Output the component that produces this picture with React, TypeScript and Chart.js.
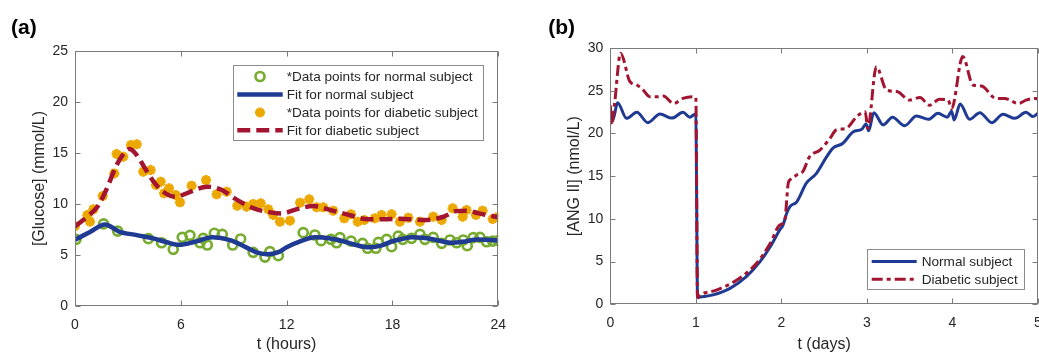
import React, { useEffect, useRef } from "react";
import { Chart, registerables } from "chart.js";
import { drawPoint } from "chart.js/helpers";

Chart.register(...registerables);

const FONT = "'Liberation Sans', Arial, Helvetica, sans-serif";
const TEXT = "#262626";
const BLUE = "#1f3a93";
const RED = "#a2142f";
const GREEN = "#77ac30";
const ORANGE = "#eda800";

// ---------- Panel (a): glucose over 24 hours ----------
const hoursTicks = [0, 6, 12, 18, 24];
const glucoseTicks = [0, 5, 10, 15, 20, 25];

const normalDataT = [0.06, 1.62, 2.42, 4.16, 4.91, 5.57, 6.08, 6.52, 7.09, 7.27, 7.5, 7.9, 8.35, 8.94, 9.39, 10.1, 10.77, 11.05, 11.53, 12.94, 13.6, 13.95, 14.51, 14.83, 15.02, 15.65, 16.3, 16.59, 17.06, 17.2, 17.67, 17.95, 18.33, 18.58, 19.08, 19.56, 19.84, 20.31, 20.79, 21.26, 21.64, 22.01, 22.24, 22.58, 22.96, 23.34, 23.68, 24.0];
const normalDataV = [6.54, 8.05, 7.35, 6.6, 6.2, 5.56, 6.73, 6.93, 6.2, 6.63, 5.98, 7.13, 7.03, 5.98, 6.57, 5.26, 4.8, 5.33, 4.93, 7.19, 6.96, 6.4, 6.54, 6.2, 6.7, 6.37, 6.14, 5.66, 5.66, 6.24, 6.54, 5.81, 6.86, 6.54, 6.63, 7.03, 6.54, 6.73, 6.14, 6.47, 6.2, 6.47, 5.91, 6.7, 6.73, 6.3, 6.37, 6.4];

const normalFitT = [0, 0.85, 1.7, 2.5, 3.5, 4.5, 5.2, 5.9, 6.8, 7.8, 8.8, 9.7, 10.4, 10.9, 11.5, 12.0, 12.8, 13.6, 14.4, 15.2, 16.0, 16.7, 17.4, 18.0, 18.6, 19.1, 19.7, 20.4, 21.3, 22.0, 22.8, 23.4, 24];
const normalFitV = [6.5, 7.25, 8.0, 7.3, 6.95, 6.6, 6.25, 6.0, 6.3, 6.73, 6.45, 5.75, 5.2, 5.07, 5.25, 5.75, 6.35, 6.73, 6.65, 6.35, 5.95, 5.75, 5.95, 6.35, 6.6, 6.73, 6.68, 6.5, 6.2, 6.3, 6.52, 6.5, 6.4];

const diabeticDataT = [0, 0.7, 0.85, 1.04, 1.57, 2.23, 2.36, 2.74, 3.17, 3.5, 3.87, 4.29, 4.59, 4.86, 5.05, 5.33, 5.71, 5.95, 6.61, 7.43, 8.03, 8.6, 9.2, 9.73, 10.1, 10.53, 10.96, 11.24, 11.62, 12.19, 12.76, 13.28, 13.7, 14.08, 14.64, 15.27, 15.65, 16.03, 16.4, 17.0, 17.38, 17.95, 18.42, 18.9, 19.56, 20.31, 20.79, 21.41, 21.98, 22.2, 22.73, 23.11, 23.68, 24];
const diabeticDataV = [7.84, 8.92, 8.27, 9.48, 10.78, 13.0, 14.9, 14.64, 15.78, 15.85, 13.17, 13.33, 11.86, 12.19, 11.05, 11.54, 10.88, 10.16, 11.8, 12.35, 10.95, 11.21, 9.83, 9.74, 10.0, 10.07, 9.48, 8.92, 8.27, 8.37, 10.13, 10.46, 9.67, 9.67, 9.35, 8.6, 8.99, 8.27, 8.43, 8.6, 8.92, 8.99, 8.27, 8.66, 8.27, 8.76, 8.43, 9.58, 8.76, 9.41, 8.92, 9.35, 8.53, 8.76];

const diabeticFitT = [0, 0.8, 1.3, 1.8, 2.3, 2.7, 3.1, 3.5, 4.0, 4.5, 5.0, 5.7, 6.4, 7.5, 8.3, 9.0, 10.1, 11.0, 11.7, 12.7, 13.5, 14.6, 15.6, 16.6, 17.5, 18.4, 19.8, 20.9, 21.6, 22.2, 22.9, 24];
const diabeticFitV = [7.8, 8.9, 9.8, 11.5, 13.6, 14.8, 15.4, 14.8, 13.4, 12.1, 11.2, 10.7, 11.1, 11.7, 11.4, 10.6, 9.6, 9.2, 9.08, 9.55, 9.8, 9.35, 8.9, 8.5, 8.5, 8.55, 8.43, 8.75, 9.3, 9.35, 9.08, 8.7];

// ---------- Panel (b): ANG II over 5 days ----------
const dayTicks = [0, 1, 2, 3, 4, 5];
const angTicks = [0, 5, 10, 15, 20, 25, 30];

const angNormalT = [0, 0.03, 0.085, 0.19, 0.31, 0.44, 0.58, 0.72, 0.85, 0.93, 0.99, 1.0, 1.02, 1.05, 1.2, 1.4, 1.59, 1.75, 1.87, 1.98, 2.02, 2.06, 2.1, 2.18, 2.29, 2.41, 2.53, 2.6, 2.72, 2.84, 2.94, 2.99, 3.02, 3.08, 3.19, 3.3, 3.44, 3.58, 3.72, 3.83, 3.94, 3.99, 4.02, 4.09, 4.2, 4.32, 4.46, 4.59, 4.73, 4.86, 4.94, 5.0];
const angNormalV = [22.3, 21.6, 23.6, 21.77, 22.47, 21.26, 22.27, 21.8, 22.47, 21.9, 22.24, 22.2, 0.8, 0.85, 1.1, 1.87, 3.23, 4.99, 6.74, 8.7, 9.3, 10.6, 11.43, 12.0, 14.16, 15.33, 17.28, 18.26, 18.85, 20.2, 20.5, 21.1, 20.3, 22.43, 21.0, 21.9, 20.9, 22.04, 21.65, 22.35, 21.9, 22.6, 21.57, 23.45, 21.65, 22.43, 21.26, 22.24, 21.77, 22.47, 21.97, 22.35];

const angDiabeticT = [0, 0.015, 0.05, 0.12, 0.23, 0.31, 0.385, 0.46, 0.56, 0.62, 0.74, 0.85, 0.97, 1.0, 1.02, 1.05, 1.24, 1.48, 1.71, 1.87, 1.98, 2.04, 2.08, 2.1, 2.18, 2.25, 2.33, 2.45, 2.57, 2.64, 2.76, 2.88, 2.98, 3.01, 3.11, 3.23, 3.35, 3.5, 3.62, 3.73, 3.85, 3.95, 3.99, 4.12, 4.24, 4.34, 4.51, 4.61, 4.77, 4.86, 4.98, 5.0];
const angDiabeticV = [23.3, 21.0, 23.5, 29.4, 26.06, 25.67, 25.08, 24.3, 24.3, 24.38, 23.5, 24.1, 24.3, 24.2, 0.8, 1.09, 1.67, 2.84, 4.8, 7.14, 9.28, 9.87, 14.16, 14.55, 15.13, 15.52, 17.28, 18.06, 19.43, 20.4, 20.6, 21.96, 22.55, 20.6, 27.8, 25.08, 24.9, 23.9, 24.2, 23.3, 24.0, 23.9, 22.9, 29.0, 25.67, 25.55, 24.1, 24.1, 23.5, 23.9, 24.1, 24.0];

const zip = (t: number[], v: number[]) => t.map((x, i) => ({ x, y: v[i] }));

// ---------- plugins ----------
const framePlugin = {
  id: "matlabFrame",
  afterDatasetsDraw(chart: any) {
    const { ctx, chartArea: a, scales } = chart;
    ctx.save();
    ctx.strokeStyle = "#7a7a7a";
    ctx.lineWidth = 1;
    const L = Math.round(a.left) + 0.5, R = Math.round(a.right) - 0.5;
    const T = Math.round(a.top) + 0.5, B = Math.round(a.bottom) - 0.5;
    ctx.strokeRect(L, T, R - L, B - T);
    ctx.beginPath();
    const tl = 5;
    scales.x.ticks.forEach((t: any) => {
      const px = Math.round(scales.x.getPixelForValue(t.value)) + 0.5;
      ctx.moveTo(px, B); ctx.lineTo(px, B - tl);
      ctx.moveTo(px, T); ctx.lineTo(px, T + tl);
    });
    scales.y.ticks.forEach((t: any) => {
      const py = Math.round(scales.y.getPixelForValue(t.value)) + 0.5;
      ctx.moveTo(L, py); ctx.lineTo(L + tl, py);
      ctx.moveTo(R, py); ctx.lineTo(R - tl, py);
    });
    ctx.stroke();
    ctx.restore();
  },
};

const boxLegendPlugin = {
  id: "boxLegend",
  afterDraw(chart: any, _args: any, opts: any) {
    if (!opts || !opts.box) return;
    const { ctx } = chart;
    const { box, rowY, lineX0, lineX1, textX, fontSize } = opts;
    ctx.save();
    ctx.fillStyle = "#ffffff";
    ctx.fillRect(box.x, box.y, box.w, box.h);
    ctx.strokeStyle = "#8a8a8a";
    ctx.lineWidth = 1;
    ctx.strokeRect(Math.round(box.x) + 0.5, Math.round(box.y) + 0.5, Math.round(box.w), Math.round(box.h));
    chart.data.datasets.forEach((ds: any, i: number) => {
      const y = rowY[i];
      if (ds.showLine === false) {
        ctx.strokeStyle = ds.borderColor;
        ctx.fillStyle = ds.backgroundColor || "rgba(0,0,0,0)";
        ctx.lineWidth = ds.pointBorderWidth;
        ctx.setLineDash([]);
        drawPoint(ctx, { pointStyle: ds.pointStyle, radius: ds.pointRadius, borderWidth: ds.pointBorderWidth, rotation: 0 }, (lineX0 + lineX1) / 2, y);
      } else {
        ctx.strokeStyle = ds.borderColor;
        ctx.lineWidth = ds.borderWidth;
        ctx.setLineDash(ds.borderDash || []);
        ctx.lineCap = "butt";
        ctx.beginPath();
        ctx.moveTo(lineX0, y);
        ctx.lineTo(lineX1, y);
        ctx.stroke();
        ctx.setLineDash([]);
      }
      ctx.fillStyle = TEXT;
      ctx.font = `${fontSize}px ${FONT}`;
      ctx.textBaseline = "middle";
      ctx.textAlign = "left";
      ctx.fillText(ds.label, textX, y + 0.5);
    });
    ctx.restore();
  },
};

const panelLabelPlugin = {
  id: "panelLabel",
  afterDraw(chart: any, _args: any, opts: any) {
    if (!opts || !opts.text) return;
    const { ctx } = chart;
    ctx.save();
    ctx.fillStyle = "#000000";
    ctx.font = `bold 21px ${FONT}`;
    ctx.textBaseline = "middle";
    ctx.textAlign = "left";
    ctx.fillText(opts.text, opts.x, opts.y);
    ctx.restore();
  },
};

function baseScales(xMin: number, xMax: number, xTicks: number[], yMin: number, yMax: number, yTicks: number[], xTitle: string, yTitle: string, leftW: number, bottomH: number, yTitlePad: number) {
  const tickFont = { family: FONT, size: 14 };
  const titleFont = { family: FONT, size: 16 };
  return {
    x: {
      type: "linear",
      min: xMin,
      max: xMax,
      afterBuildTicks: (s: any) => { s.ticks = xTicks.map((v) => ({ value: v })); },
      grid: { display: false, drawTicks: false },
      border: { display: false },
      ticks: { color: TEXT, font: tickFont, padding: 10.5, maxRotation: 0, autoSkip: false, callback: (v: any) => String(v) },
      title: { display: true, text: xTitle, color: TEXT, font: titleFont, padding: { top: 0, bottom: 0 } },
      afterFit: (s: any) => { s.height = bottomH; },
    },
    y: {
      type: "linear",
      min: yMin,
      max: yMax,
      afterBuildTicks: (s: any) => { s.ticks = yTicks.map((v) => ({ value: v })); },
      grid: { display: false, drawTicks: false },
      border: { display: false },
      ticks: { color: TEXT, font: tickFont, padding: 7, autoSkip: false, callback: (v: any) => String(v) },
      title: { display: true, text: yTitle, color: TEXT, font: titleFont, padding: { top: yTitlePad, bottom: 0 } },
      afterFit: (s: any) => { s.width = leftW; },
    },
  };
}

function PanelA() {
  const ref = useRef<HTMLCanvasElement>(null);
  useEffect(() => {
    const chart = new Chart(ref.current!, {
      type: "line",
      data: {
        datasets: [
          { label: "*Data points for normal subject", data: zip(normalDataT, normalDataV), showLine: false, borderColor: GREEN, backgroundColor: "rgba(0,0,0,0)", pointStyle: "circle", pointRadius: 4.5, pointBorderWidth: 2.7, pointBackgroundColor: "rgba(0,0,0,0)", pointBorderColor: GREEN, order: 4 },
          { label: "Fit for normal subject", data: zip(normalFitT, normalFitV), borderColor: BLUE, borderWidth: 4.5, pointRadius: 0, cubicInterpolationMode: "monotone", order: 3 },
          { label: "*Data points for diabetic subject", data: zip(diabeticDataT, diabeticDataV), showLine: false, borderColor: ORANGE, backgroundColor: ORANGE, pointStyle: "star", pointRadius: 5, pointBorderWidth: 3, pointBorderColor: ORANGE, pointBackgroundColor: ORANGE, order: 2 },
          { label: "Fit for diabetic subject", data: zip(diabeticFitT, diabeticFitV), borderColor: RED, borderWidth: 4.5, borderDash: [13, 6], pointRadius: 0, cubicInterpolationMode: "monotone", order: 1 },
        ],
      },
      options: {
        animation: false,
        responsive: true,
        maintainAspectRatio: false,
        devicePixelRatio: 1,
        layout: { padding: { top: 51, right: 21.7, left: 0, bottom: 0 } },
        scales: baseScales(0, 24, hoursTicks, 0, 25, glucoseTicks, "t (hours)", "[Glucose] (mmol/L)", 75, 48, 29.5) as any,
        plugins: {
          legend: { display: false },
          tooltip: { enabled: false },
          boxLegend: { box: { x: 232.7, y: 65.3, w: 250, h: 75.4 }, rowY: [76.5, 94.5, 112.5, 130.3], lineX0: 237.3, lineX1: 282.7, textX: 286.7, fontSize: 13.6 },
          panelLabel: { text: "(a)", x: 11, y: 28.5 },
        } as any,
      },
      plugins: [framePlugin, boxLegendPlugin, panelLabelPlugin],
    } as any);
    return () => chart.destroy();
  }, []);
  return (
    <div style={{ position: "absolute", left: 0, top: 0, width: 520, height: 354 }}>
      <canvas ref={ref} />
    </div>
  );
}

function PanelB() {
  const ref = useRef<HTMLCanvasElement>(null);
  useEffect(() => {
    const chart = new Chart(ref.current!, {
      type: "line",
      data: {
        datasets: [
          { label: "Normal subject", data: zip(angNormalT, angNormalV), borderColor: BLUE, borderWidth: 3, pointRadius: 0, cubicInterpolationMode: "monotone", order: 2 },
          { label: "Diabetic subject", data: zip(angDiabeticT, angDiabeticV), borderColor: RED, borderWidth: 3, borderDash: [11, 4, 4, 4], pointRadius: 0, cubicInterpolationMode: "monotone", order: 1 },
        ],
      },
      options: {
        animation: false,
        responsive: true,
        maintainAspectRatio: false,
        devicePixelRatio: 1,
        layout: { padding: { top: 48, right: 22, left: 0, bottom: 0 } },
        scales: baseScales(0, 5, dayTicks, 0, 30, angTicks, "t (days)", "[ANG II] (nmol/L)", 90.3, 49.7, 44.5) as any,
        plugins: {
          legend: { display: false },
          tooltip: { enabled: false },
          boxLegend: { box: { x: 346.7, y: 249.3, w: 156.6, h: 40 }, rowY: [261.5, 279.3], lineX0: 351.7, lineX1: 396.7, textX: 401.7, fontSize: 13.6 },
          panelLabel: { text: "(b)", x: 28.3, y: 28.5 },
        } as any,
      },
      plugins: [framePlugin, boxLegendPlugin, panelLabelPlugin],
    } as any);
    return () => chart.destroy();
  }, []);
  return (
    <div style={{ position: "absolute", left: 520, top: 0, width: 540, height: 354 }}>
      <canvas ref={ref} />
    </div>
  );
}

export default function App() {
  return (
    <div style={{ position: "fixed", left: 0, top: 0, width: 1039, height: 354, overflow: "hidden", background: "#ffffff" }}>
      <PanelA />
      <PanelB />
    </div>
  );
}
